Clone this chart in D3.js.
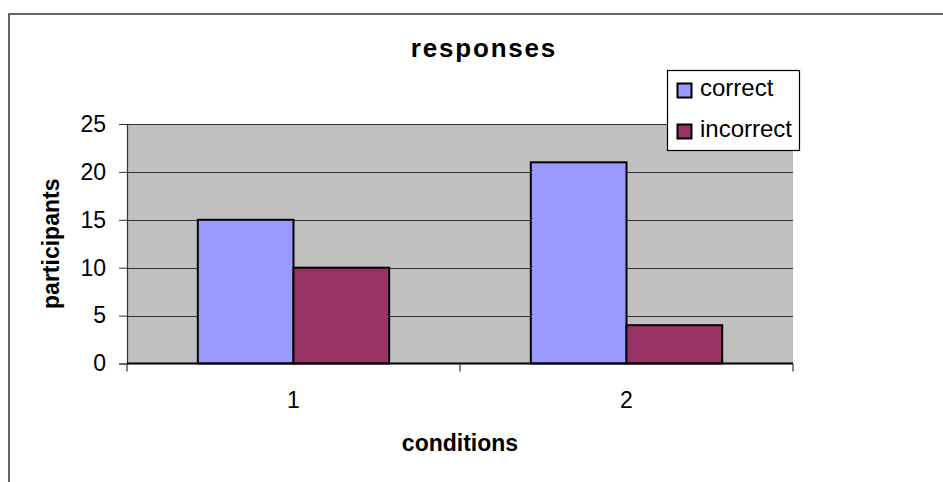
<!DOCTYPE html>
<html><head><meta charset="utf-8">
<script src="https://cdn.jsdelivr.net/npm/d3@7"></script>
<style>
html,body{margin:0;padding:0;background:#fff;}
svg{display:block;font-family:"Liberation Sans",Arial,sans-serif;}
</style></head>
<body>
<svg id="c" width="943" height="482"></svg>
<script>
const categories = ["1", "2"];
const seriesNames = ["correct", "incorrect"];
const correctValues = [15, 21];
const incorrectValues = [10, 4];
const yTicks = [0, 5, 10, 15, 20, 25];
const colors = ["#9999FF", "#993366"];
const title = "responses";
const xTitle = "conditions";
const yTitle = "participants";

const svg = d3.select("#c");
const plot = {l: 127, t: 124, r: 793, b: 363.5};

// outer chart border
svg.append("rect").attr("x", 9).attr("y", 14).attr("width", 960).attr("height", 500)
  .attr("fill", "#fff").attr("stroke", "#333").attr("stroke-width", 1.5);

const x0 = d3.scaleBand().domain(categories).range([plot.l, plot.r]).paddingInner(0).paddingOuter(0);
const x1 = d3.scaleBand().domain(seriesNames).range([0, x0.bandwidth()]).paddingInner(0).paddingOuter(0.74);
const y = d3.scaleLinear().domain([0, 25]).range([plot.b, plot.t]);

// plot area
svg.append("rect").attr("x", plot.l).attr("y", plot.t).attr("width", plot.r - plot.l).attr("height", plot.b - plot.t)
  .attr("fill", "#C0C0C0");

// gridlines
svg.append("g").selectAll("line").data(yTicks.filter(d => d > 0)).join("line")
  .attr("x1", plot.l).attr("x2", plot.r)
  .attr("y1", d => Math.round(y(d)) + 0.5).attr("y2", d => Math.round(y(d)) + 0.5)
  .attr("stroke", "#333").attr("stroke-width", 1);

// bars
const data = categories.map((c, i) => ({cat: c, vals: [correctValues[i], incorrectValues[i]]}));
const groups = svg.append("g").selectAll("g").data(data).join("g")
  .attr("transform", d => `translate(${x0(d.cat)},0)`);
groups.selectAll("rect").data(d => d.vals.map((v, j) => ({v, s: seriesNames[j], j}))).join("rect")
  .attr("x", d => x1(d.s)).attr("width", x1.bandwidth())
  .attr("y", d => y(d.v)).attr("height", d => y(0) - y(d.v))
  .attr("fill", d => colors[d.j]).attr("stroke", "#000").attr("stroke-width", 2);

// y axis
const yAxis = d3.axisLeft(y).tickValues(yTicks).tickSize(8).tickPadding(13).tickFormat(d3.format("d"));
const ya = svg.append("g").attr("transform", `translate(${plot.l},0)`).call(yAxis);
ya.select(".domain").attr("stroke", "#333").attr("stroke-width", 1.2);
ya.selectAll(".tick line").attr("stroke", "#333");
ya.selectAll("text").attr("font-size", 23).attr("fill", "#000").attr("font-family", "Liberation Sans, Arial, sans-serif");

// x axis
const xAxis = d3.axisBottom(x0).tickSize(0).tickPadding(28);
const xa = svg.append("g").attr("transform", `translate(0,${plot.b})`).call(xAxis);
xa.select(".domain").attr("stroke", "#000").attr("stroke-width", 2).attr("d", `M${plot.l},0H${plot.r}`);
xa.selectAll("text").attr("font-size", 23).attr("fill", "#000").attr("font-family", "Liberation Sans, Arial, sans-serif");
// category boundary ticks
const bounds = categories.map(c => x0(c)).concat([x0(categories[categories.length - 1]) + x0.bandwidth()]);
xa.append("g").selectAll("line").data(bounds).join("line")
  .attr("x1", d => d).attr("x2", d => d).attr("y1", 0).attr("y2", 8)
  .attr("stroke", "#333").attr("stroke-width", 1.2);

// titles
svg.append("text").attr("x", 484).attr("y", 57).attr("text-anchor", "middle")
  .attr("font-size", 26).attr("font-weight", "bold").attr("letter-spacing", 1.8).text(title);
svg.append("text").attr("x", 460).attr("y", 451).attr("text-anchor", "middle")
  .attr("font-size", 23).attr("font-weight", "bold").text(xTitle);
svg.append("text").attr("transform", `translate(59,${(plot.t + plot.b) / 2}) rotate(-90)`).attr("text-anchor", "middle")
  .attr("font-size", 23).attr("font-weight", "bold").text(yTitle);

// legend
const lg = svg.append("g");
lg.append("rect").attr("x", 667.5).attr("y", 70.5).attr("width", 132).attr("height", 80)
  .attr("fill", "#fff").attr("stroke", "#000").attr("stroke-width", 1.2);
const li = lg.selectAll("g").data(seriesNames).join("g")
  .attr("transform", (d, i) => `translate(677,${83 + i * 41})`);
li.append("rect").attr("x", 0.5).attr("y", 0.5).attr("width", 14).attr("height", 14)
  .attr("fill", (d, i) => colors[i]).attr("stroke", "#000").attr("stroke-width", 2);
li.append("text").attr("x", 23).attr("y", 13).attr("font-size", 24).text(d => d);
</script>
</body></html>
